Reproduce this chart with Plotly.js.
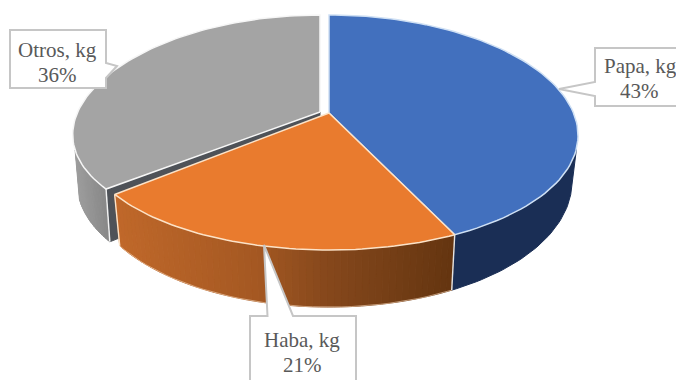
<!DOCTYPE html>
<html>
<head>
<meta charset="utf-8">
<script src="https://cdn.plot.ly/plotly-3.0.1.min.js"></script>
<style>html,body{margin:0;padding:0;background:#fff;overflow:hidden}</style>
</head>
<body>
<div id="chart" style="width:676px;height:380px"></div>
<script>
// Production shares, in percent
const categories = ['Papa, kg', 'Haba, kg', 'Otros, kg'];
const values = [43, 21, 36];
const topColors = ['#4270BE', '#E97B2E', '#A4A4A4'];
const edgeColors = ['#CFE0F4', '#FCE3C8', '#F6F6F6'];

// Perspective of each disc: centre, radii and foreshortening (q across, p along the depth)
const blueOrangeTop = {cx: 329, cy: 113, a: 244.5, b: 114.3, p: 0.166, q: 0.19};
const blueOrangeBase = {cx: 329, cy: 156, a: 238.7, b: 126, p: 0.166, q: 0.19};
const pulledTop = {cx: 320, cy: 112, a: 242.3, b: 110.3, p: 0.137, q: 0.2};
const pulledBase = {cx: 320, cy: 158, a: 238, b: 120, p: 0.137, q: 0.2};

function rim(d, deg) {
  const t = deg * Math.PI / 180, u = Math.sin(t), v = Math.cos(t);
  return [d.cx + d.a * u / (1 + d.q * v), d.cy - d.b * v / (1 + d.p * v)];
}
function arc(d, from, to, n) {
  const pts = [];
  for (let i = 0; i <= n; i++) pts.push(rim(d, from + (to - from) * i / n));
  return pts;
}
function mix(stops, t) {
  t = Math.max(0, Math.min(1, t));
  for (let i = 1; i < stops.length; i++) {
    if (t <= stops[i][0]) {
      const a = stops[i - 1], b = stops[i], f = (t - a[0]) / (b[0] - a[0]);
      const c = [0, 1, 2].map(k => Math.round(a[1][k] + (b[1][k] - a[1][k]) * f));
      return `rgb(${c[0]},${c[1]},${c[2]})`;
    }
  }
  return 'rgb(0,0,0)';
}
function poly(pts, fill, line, width) {
  const xs = pts.map(p => p[0]).concat([pts[0][0]]);
  const ys = pts.map(p => p[1]).concat([pts[0][1]]);
  return {type: 'scatter', mode: 'lines', x: xs, y: ys, fill: 'toself', fillcolor: fill,
          line: {color: line || fill, width: width === undefined ? 1 : width},
          hoverinfo: 'skip', showlegend: false};
}
function stroke(pts, color, width) {
  return {type: 'scatter', mode: 'lines', x: pts.map(p => p[0]), y: pts.map(p => p[1]),
          line: {color: color, width: width}, hoverinfo: 'skip', showlegend: false};
}
function wall(top, base, from, to, n, colorAt) {
  const out = [];
  for (let i = 0; i < n; i++) {
    const a0 = from + (to - from) * i / n, a1 = from + (to - from) * (i + 1) / n;
    const pts = [rim(top, a0), rim(top, a1), rim(base, a1), rim(base, a0)];
    out.push(poly(pts, colorAt((pts[0][0] + pts[1][0]) / 2)));
  }
  return out;
}

// Slice boundaries, clockwise from twelve o'clock
const total = values.reduce((s, v) => s + v, 0);
const bounds = [0];
values.forEach((v, i) => bounds.push(bounds[i] + v / total * 360));

const grayStops = [[0, [158, 158, 158]], [1, [130, 130, 130]]];
const orangeStops = [[0, [192, 104, 42]], [0.42, [164, 88, 34]], [0.62, [134, 72, 28]], [1, [100, 53, 16]]];
const grayVisibleEnd = 250.8, blueVisibleStart = 107;

const traces = [];
// Pulled-out slice: outer wall, cut face, top
traces.push(...wall(pulledTop, pulledBase, bounds[2], grayVisibleEnd, 24,
  x => mix(grayStops, (x - 73) / 40)));
traces.push(poly([[pulledTop.cx, pulledTop.cy], rim(pulledTop, bounds[2]), rim(pulledBase, bounds[2]),
  [pulledBase.cx, pulledBase.cy]], '#4E5258'));
traces.push(stroke([rim(pulledTop, bounds[2]), rim(pulledBase, bounds[2])], '#F2F2F2', 1.5));
traces.push(poly([[pulledTop.cx, pulledTop.cy]].concat(arc(pulledTop, bounds[2], 360, 90)),
  topColors[2], edgeColors[2], 1.5));

// Outer walls of the two remaining slices
traces.push(poly(arc(blueOrangeTop, blueVisibleStart, bounds[1], 40)
  .concat(arc(blueOrangeBase, bounds[1], blueVisibleStart, 40)), '#1A2E55'));
traces.push(...wall(blueOrangeTop, blueOrangeBase, bounds[1], bounds[2], 56,
  x => mix(orangeStops, (x - 114) / 340)));
traces.push(stroke(arc(blueOrangeBase, bounds[1], bounds[2], 40), '#F6D6B8', 0.6));
traces.push(stroke([rim(blueOrangeTop, bounds[2]), rim(blueOrangeBase, bounds[2])], '#FCE3C8', 1.4));
traces.push(stroke([rim(blueOrangeTop, bounds[1]), rim(blueOrangeBase, bounds[1])], '#E4E4E4', 1.4));

// Top faces
traces.push(poly([[blueOrangeTop.cx, blueOrangeTop.cy]].concat(arc(blueOrangeTop, 0, bounds[1], 90)),
  topColors[0], edgeColors[0], 1.5));
traces.push(poly([[blueOrangeTop.cx, blueOrangeTop.cy]].concat(arc(blueOrangeTop, bounds[1], bounds[2], 60)),
  topColors[1], edgeColors[1], 1.5));

// Callout outlines: box plus pointer towards the slice
const calloutPaths = [
  'M595,48 H690 V106 H595 V96 L559,89 L595,82 Z',
  'M250,316 H267.5 L264,245 L293,316 H356 V392 H250 Z',
  'M10,30 H106 V63 L117,66 L106,78 V88 H10 Z'
];
const shapes = calloutPaths.map(path => ({
  type: 'path', xref: 'x', yref: 'y', path: path, layer: 'above',
  fillcolor: '#FFFFFF', line: {color: '#C6C6C6', width: 2}
}));

// Two-line labels: category and its share
const labelCenters = [[640, 639, 66, 91], [302, 302, 340, 365], [57, 57, 50, 75]];
const annotations = [];
categories.forEach((name, i) => {
  const c = labelCenters[i];
  [[name, c[0], c[2]], [values[i] + '%', c[1], c[3]]].forEach(line => {
    annotations.push({x: line[1], y: line[2], xref: 'x', yref: 'y', text: line[0], showarrow: false,
      xanchor: 'center', yanchor: 'middle',
      font: {family: '"Liberation Serif", serif', size: 21, color: '#595959'}});
  });
});

Plotly.newPlot('chart', traces, {
  width: 676, height: 380,
  margin: {l: 0, r: 0, t: 0, b: 0},
  paper_bgcolor: '#FFFFFF', plot_bgcolor: '#FFFFFF',
  showlegend: false, hovermode: false,
  xaxis: {range: [0, 676], visible: false, fixedrange: true},
  yaxis: {range: [380, 0], visible: false, fixedrange: true},
  shapes: shapes, annotations: annotations
}, {staticPlot: true, displayModeBar: false});
</script>
</body>
</html>
